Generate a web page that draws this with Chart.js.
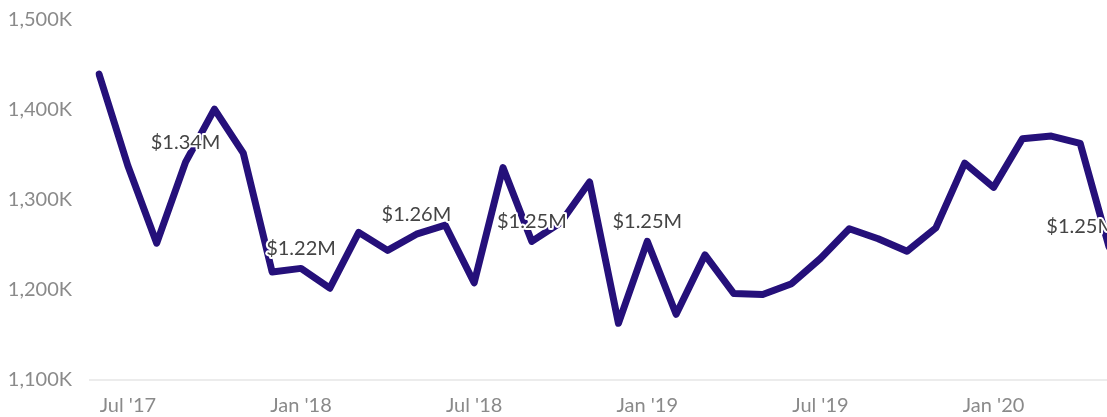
<!DOCTYPE html>
<html>
<head>
<meta charset="utf-8">
<script src="https://cdn.jsdelivr.net/npm/chart.js@4/dist/chart.umd.min.js"></script>
<style>
  html, body { margin: 0; padding: 0; background: #ffffff; overflow: hidden; }
  #wrap { position: relative; width: 1116px; height: 417px; }
</style>
</head>
<body>
<div id="wrap"><canvas id="c"></canvas></div>
<script>
// Months (Jun 2017 – May 2020)
const months = [
  "Jun '17","Jul '17","Aug '17","Sep '17","Oct '17","Nov '17","Dec '17",
  "Jan '18","Feb '18","Mar '18","Apr '18","May '18","Jun '18","Jul '18","Aug '18","Sep '18","Oct '18","Nov '18","Dec '18",
  "Jan '19","Feb '19","Mar '19","Apr '19","May '19","Jun '19","Jul '19","Aug '19","Sep '19","Oct '19","Nov '19","Dec '19",
  "Jan '20","Feb '20","Mar '20","Apr '20","May '20"
];
// Monthly value, in thousands of dollars
const valuesK = [
  1440, 1338, 1252, 1342, 1401, 1352, 1220,
  1224, 1202, 1264, 1244, 1262, 1272, 1208, 1336, 1254, 1275, 1320, 1163,
  1254, 1173, 1239, 1196, 1195, 1207, 1235, 1268, 1257, 1243, 1269, 1341,
  1314, 1368, 1371, 1363, 1248
];
// Months that carry a value label
const labelledMonths = ["Sep '17", "Jan '18", "May '18", "Sep '18", "Jan '19", "May '20"];
// Months shown on the x axis
const xTickMonths = ["Jul '17", "Jan '18", "Jul '18", "Jan '19", "Jul '19", "Jan '20"];
// Y axis range (thousands)
const yMin = 1100, yMax = 1500, yStep = 100;

const FONT = 'Lato, "Noto Sans", sans-serif';

const valueLabels = {
  id: 'valueLabels',
  afterDatasetsDraw(chart) {
    const ctx = chart.ctx;
    const meta = chart.getDatasetMeta(0);
    ctx.save();
    ctx.font = '20px ' + FONT;
    ctx.textAlign = 'left';
    ctx.textBaseline = 'middle';
    ctx.lineJoin = 'round';
    labelledMonths.forEach(m => {
      const i = months.indexOf(m);
      if (i < 0) return;
      const pt = meta.data[i];
      const txt = '$' + (valuesK[i] / 1000).toFixed(2) + 'M';
      const w = ctx.measureText(txt).width;
      let x = pt.x - w / 2;
      if (x + w > chart.width) x = chart.width - w;
      if (x < 0) x = 0;
      const y = pt.y - 20;
      ctx.strokeStyle = '#ffffff';
      ctx.lineWidth = 4;
      ctx.strokeText(txt, x, y);
      ctx.fillStyle = '#444444';
      ctx.fillText(txt, x, y);
    });
    ctx.restore();
  }
};

new Chart(document.getElementById('c'), {
  type: 'line',
  data: {
    labels: months,
    datasets: [{
      data: valuesK,
      borderColor: '#25107a',
      borderWidth: 7,
      borderJoinStyle: 'round',
      borderCapStyle: 'round',
      pointRadius: 0,
      pointHoverRadius: 0,
      tension: 0,
      fill: false
    }]
  },
  options: {
    responsive: true,
    maintainAspectRatio: false,
    animation: false,
    events: [],
    layout: { padding: { left: 0, right: 7, top: 20, bottom: 0 } },
    plugins: { legend: { display: false }, tooltip: { enabled: false } },
    scales: {
      x: {
        type: 'category',
        offset: false,
        grid: { display: false, drawTicks: false },
        border: { display: false },
        ticks: {
          autoSkip: false,
          maxRotation: 0,
          minRotation: 0,
          padding: 14,
          color: '#8a8a8a',
          font: { family: FONT, size: 20 },
          callback: function(v, i) {
            const m = months[i];
            return xTickMonths.includes(m) ? m : '';
          }
        },
        afterFit(scale) { scale.height = 37; scale.paddingLeft = 0; scale.paddingRight = 0; }
      },
      y: {
        min: yMin,
        max: yMax,
        border: { display: false },
        grid: {
          drawTicks: true,
          tickLength: 10,
          lineWidth: 2,
          color: ctx => (ctx.tick && ctx.tick.value === yMin) ? '#ececec' : 'rgba(0,0,0,0)'
        },
        ticks: {
          stepSize: yStep,
          padding: 17,
          color: '#8a8a8a',
          font: { family: FONT, size: 20 },
          callback: v => v.toLocaleString('en-US') + 'K'
        },
        afterFit(scale) { scale.width = 99; scale.paddingTop = 0; scale.paddingBottom = 0; }
      }
    }
  },
  plugins: [valueLabels]
});
</script>
</body>
</html>
